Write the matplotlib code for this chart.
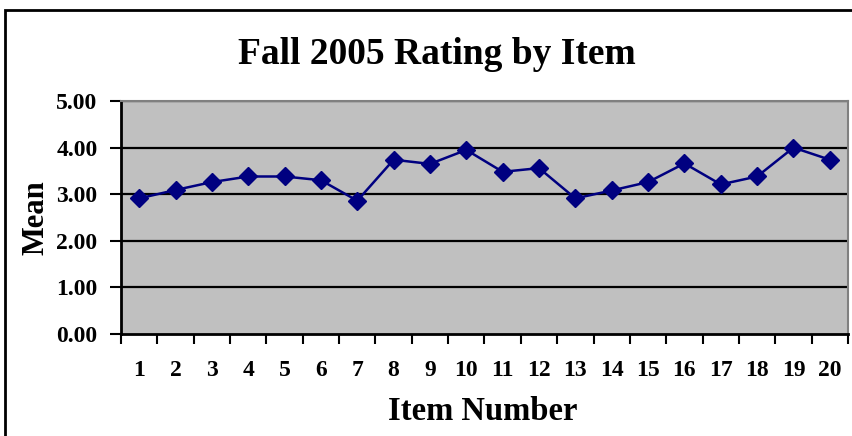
import matplotlib
matplotlib.use("Agg")
import matplotlib.pyplot as plt
from matplotlib.patches import Rectangle
import numpy as np

# item numbers and mean ratings
items = list(range(1, 21))
means = [2.91, 3.09, 3.26, 3.38, 3.38, 3.30, 2.86, 3.74, 3.65, 3.95,
         3.48, 3.56, 2.91, 3.08, 3.26, 3.66, 3.21, 3.38, 4.00, 3.74]
yticks = [0, 1, 2, 3, 4, 5]

plt.rcParams['font.family'] = ['Liberation Serif', 'DejaVu Serif']
plt.rcParams['font.weight'] = 'bold'

fig = plt.figure(figsize=(8.53, 4.36), dpi=100)
# outer chart border
fig.patches.append(Rectangle((5/853, -0.01), 1.0, 1 - 10/436 + 0.01,
                             transform=fig.transFigure, fill=False,
                             edgecolor='black', linewidth=2))

ax = fig.add_axes([121/853, 1 - 334/436, 727/853, 233/436])
ax.set_facecolor('#c0c0c0')

# horizontal gridlines
for y in yticks[1:]:
    ax.axhline(y, color='black', linewidth=1.6, zorder=1)

ax.plot(items, means, color='#000080', linewidth=1.8, marker='D',
        markersize=9, markerfacecolor='#000080', markeredgecolor='#000080',
        zorder=3)

ax.set_xlim(0.5, 20.5)
ax.set_ylim(0, 5)
ax.set_yticks(yticks)
ax.set_yticklabels(['%.2f' % v for v in yticks], fontsize=17, fontweight='bold')

# category labels at centres, tick marks at boundaries
ax.set_xticks(items)
ax.set_xticklabels([str(i) for i in items], fontsize=17, fontweight='bold')
ax.tick_params(axis='x', which='major', length=0, pad=19)
ax.set_xticks(np.arange(0.5, 21, 1), minor=True)
ax.tick_params(axis='x', which='minor', length=7, width=1.5, direction='out')
ax.tick_params(axis='y', length=8, width=1.5, direction='out', pad=9)

for s in ['left', 'bottom']:
    ax.spines[s].set_linewidth(2)
    ax.spines[s].set_color('black')
for s in ['top', 'right']:
    ax.spines[s].set_linewidth(1.5)
    ax.spines[s].set_color('#808080')

fig.text(437/853, 1 - 55/436, 'Fall 2005 Rating by Item', ha='center',
         va='center', fontsize=27, fontweight='bold')
fig.text(483/853, 1 - 411/436, 'Item Number', ha='center', va='center',
         fontsize=23.5, fontweight='bold')
fig.text(36/853, 1 - 218/436, 'Mean', ha='center', va='center',
         rotation=90, fontsize=22, fontweight='bold')

fig.savefig('out.png', dpi=100)
